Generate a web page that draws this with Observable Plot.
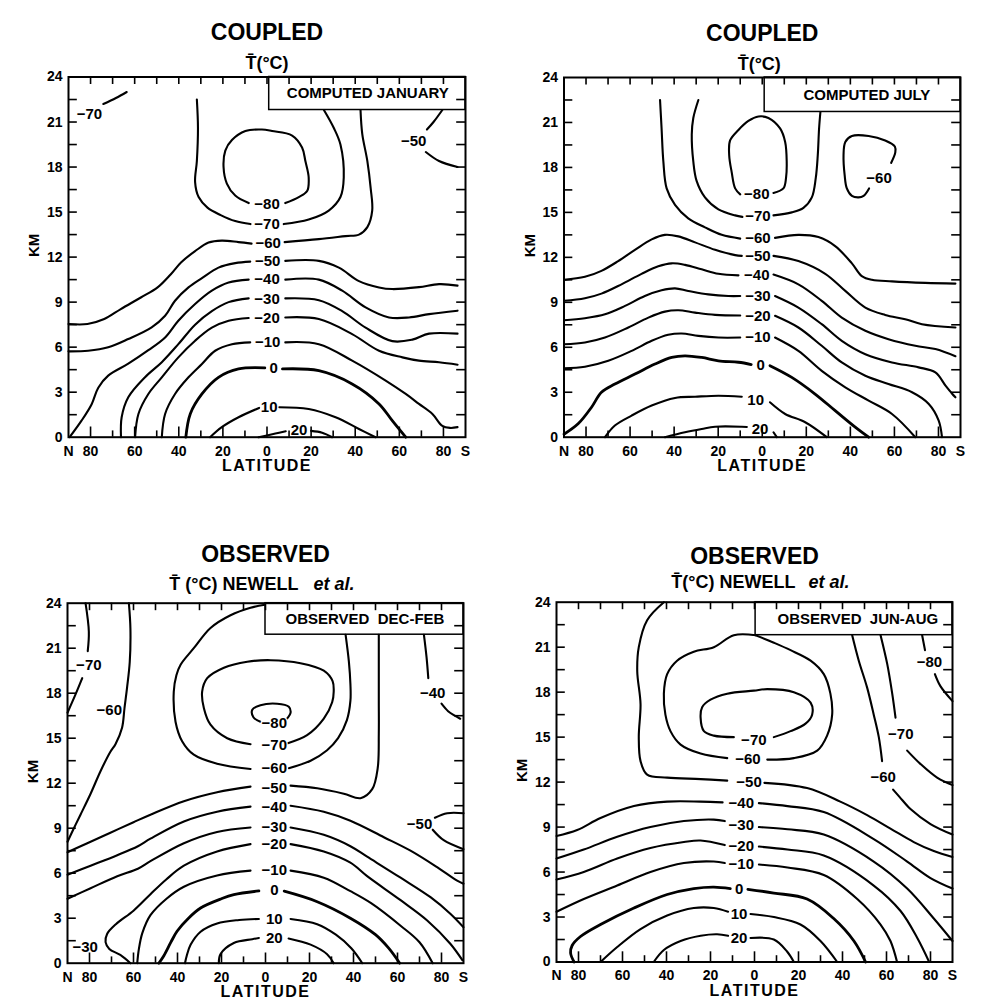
<!DOCTYPE html>
<html><head><meta charset="utf-8">
<script src="https://cdn.jsdelivr.net/npm/d3@7"></script>
<script src="https://cdn.jsdelivr.net/npm/@observablehq/plot@0.6"></script>
<style>
body{margin:0;background:#fff;}
#wrap{position:relative;width:985px;height:1007px;overflow:hidden;background:#fff;}
#wrap svg{position:absolute;}
</style></head><body><div id="wrap"></div>
<script>
// ---------- axis ticks ----------
const kmTicks = [1.5,3,4.5,6,7.5,9,10.5,12,13.5,15,16.5,18,19.5,21,22.5];
const kmTickLabels = [0,3,6,9,12,15,18,21,24];
const latTicks = [80,70,60,50,40,30,20,10,0,-10,-20,-30,-40,-50,-60,-70,-80];
const latTickLabels = [80,60,40,20,0,-20,-40,-60,-80];

// ---------- COMPUTED JANUARY (lat, km) ----------
const janM70a = [[74.2,22.2],[68.5,22.6],[63.6,23.0]];
const janM70n = [[31.8,22.5],[31.3,20.6],[31.8,18.4],[32.6,17.0],[31,16.0],[27,15.3],[21,14.8],[14.4,14.4],[7.5,14.2]];
const janM70s = [[-7.6,14.2],[-18.9,14.5],[-28,15.1],[-33.3,16.0],[-34.8,17.3],[-33.3,19.5],[-30.3,20.6],[-25.8,21.8]];
const janM80 = [[8.3,15.6],[14.4,16.1],[18.2,16.9],[19.7,18.0],[18.9,19.1],[15.9,19.8],[9.8,20.4],[2.3,20.5],[-2.3,20.4],[-11.4,20.1],[-15.9,19.3],[-17.4,18.4],[-18.9,17.3],[-18.2,16.4],[-14.4,16.0],[-8.3,15.6]];
const janM60n = [[90,7.54],[81.4,7.54],[73.8,7.87],[66.3,8.54],[57.2,9.31],[49.6,9.98],[43.6,10.86],[39,11.64],[32.6,12.4],[26.5,12.97],[20.5,13.1],[12.9,13.0],[7,12.9]];
const janM60s = [[-8,13.0],[-23.5,13.2],[-35.6,13.4],[-41.7,13.5],[-45.5,14.0],[-47.7,15.1],[-47,16.6],[-45.5,18.4],[-43.2,20.2],[-42.4,21.8]];
const janM50n = [[90,5.72],[81.1,5.76],[72,5.99],[62.9,6.54],[52.3,7.32],[46.2,8.09],[41.7,9.09],[35.6,9.98],[29.5,10.6],[22,11.3],[14.4,11.6],[7.6,11.7]];
const janM50s = [[-8.3,11.75],[-23.5,11.75],[-32.6,11.3],[-41.7,10.4],[-50.8,9.98],[-56.8,9.87],[-68.9,10.0],[-78,10.2],[-86.4,10.1]];
const janM50a = [[-79.5,21.8],[-75.5,21.0],[-72.5,20.5]];
const janM50b = [[-72,19.0],[-78,18.4],[-86.4,18.0]];
const janM40n = [[89.5,0],[84.1,1.1],[79.5,2.2],[76.5,3.3],[72,4.1],[62.9,4.9],[53.8,5.8],[46.2,6.65],[40.2,7.76],[32.6,8.87],[25,9.76],[17.4,10.3],[8.3,10.5]];
const janM40s = [[-8.3,10.5],[-23.5,10.5],[-34.1,9.76],[-44.7,8.65],[-55.3,7.98],[-64.4,7.98],[-73.5,8.2],[-86.4,8.43]];
const janM30n = [[66.2,0],[65.9,1.33],[62.9,2.66],[55.3,4.0],[47.7,5.0],[40.2,6.2],[32.6,7.5],[25,8.4],[17.4,9.0],[8.3,9.25]];
const janM30s = [[-8.3,9.25],[-23.5,9.13],[-34.1,8.4],[-44.7,7.3],[-56.8,6.4],[-65.9,6.5],[-73.5,6.9],[-86.4,6.9]];
const janM20n = [[59.8,0],[58.3,1.55],[53.8,2.88],[47.7,3.99],[40.2,5.32],[32.6,6.43],[25,7.3],[17.4,7.76],[8.3,7.94]];
const janM20s = [[-8.3,7.98],[-23.5,7.87],[-38.6,6.87],[-50.8,5.76],[-61.4,5.32],[-68.9,5.1],[-78,4.99],[-86.4,4.83]];
const janM10n = [[47.7,0],[46.2,1.55],[41.7,2.88],[35.6,3.99],[29.5,4.88],[23.5,5.76],[15.9,6.2],[7.6,6.32]];
const janM10s = [[-8.3,6.32],[-23.5,6.2],[-38.6,5.1],[-53.8,3.77],[-62.9,2.88],[-68.9,2.22],[-75,1.55],[-79.5,0.75],[-83,0.62],[-86.4,0.67]];
const jan0n = [[36.8,0],[34.8,1.55],[29.5,2.88],[22,3.99],[12.9,4.55],[1,4.62]];
const jan0s = [[-7,4.55],[-23.5,4.43],[-38.6,3.55],[-50.8,2.22],[-56.8,1.1],[-62.9,0]];
const jan10n = [[25.8,0],[20.5,0.67],[12.9,1.33],[3.6,1.95]];
const jan10s = [[-5.5,2.0],[-18.9,1.88],[-31.1,1.33],[-41.7,0.55],[-49.2,0]];
const jan20a = [[3.8,0],[-3.8,0.24],[-8.5,0.4]];
const jan20b = [[-20,0.42],[-25,0.3],[-29.5,0]];
const janLabels = [["−80",0,15.55],["−70",0,14.2],["−60",-0.5,12.95],["−50",-0.3,11.72],["−40",0,10.5],["−30",0,9.2],["−20",0,7.95],["−10",-0.3,6.3],["0",-3,4.58],["10",-1,1.98],["20",-14.5,0.45],["−50",-66.5,19.7],["−70",80.5,21.5]];

// ---------- COMPUTED JULY ----------
const julM80 = [[10,16.2],[12.3,16.6],[13.9,17.7],[15,18.8],[14.6,19.8],[10.8,20.5],[6.3,21.1],[1.7,21.4],[-2.8,21.3],[-8.1,20.6],[-10.4,19.7],[-11.1,18.4],[-10.8,17.3],[-9.6,16.6],[-5.1,16.3]];
const julM70n = [[29,22.5],[31.3,21.3],[32,20.2],[31.3,18.4],[29.8,17.1],[26,16.0],[19.9,15.2],[12.3,14.8],[9,14.7]];
const julM70s = [[-5.1,14.8],[-13.4,15.0],[-18.7,15.3],[-22.5,16.0],[-24.3,17.3],[-25.2,18.8],[-25.8,20.6],[-26.4,21.7]];
const julM60n = [[46.4,22.5],[45.7,20.6],[44.9,18.4],[43.4,16.6],[39.6,15.5],[33.6,14.6],[26,14.0],[18.4,13.5],[10,13.25]];
const julM60s = [[-5.8,13.3],[-16.4,13.5],[-25.5,13.35],[-33.1,12.75],[-40.7,11.6],[-45.2,10.75],[-49.8,10.5],[-58.9,10.4],[-74,10.3],[-87.7,10.25]];
const julM60loop = [[-48.5,16.6],[-46,16.1],[-43.7,16.0],[-40.7,16.1],[-38.4,16.6],[-37.4,17.5],[-36.9,18.8],[-37.7,19.7],[-40.7,20.1],[-48.3,20.1],[-55.8,19.8],[-60.2,19.4],[-60.4,19.0],[-58.5,18.3]];
const julM50n = [[90,10.5],[80.5,10.7],[73,11.1],[65.4,11.75],[57.8,12.5],[50.2,13.2],[44.2,13.5],[38.1,13.4],[30.5,13.0],[21.4,12.5],[12.3,12.15],[9.3,12.1]];
const julM50s = [[-5.1,12.1],[-16.4,11.75],[-28.6,10.9],[-37.7,9.76],[-46.8,8.65],[-55.8,8.16],[-64.9,7.87],[-72.5,7.54],[-87.7,7.32]];
const julM40n = [[90,9.1],[80.5,9.27],[73,9.58],[63.9,10.2],[54.8,10.9],[47.2,11.4],[41.1,11.6],[35.1,11.5],[27.5,11.2],[19.9,10.9],[10.8,10.8]];
const julM40s = [[-5.1,10.85],[-16.4,10.2],[-27,9.1],[-36.1,7.98],[-46.8,7.1],[-57.3,6.54],[-69.5,6.1],[-78.6,5.88],[-87.7,5.4]];
const julM30n = [[90,7.8],[80.5,7.94],[71.4,8.2],[62.3,8.76],[53.3,9.42],[45.7,9.8],[39.6,9.93],[33.6,9.76],[24.5,9.53],[15.4,9.42],[10,9.42]];
const julM30s = [[-5.8,9.42],[-16.4,8.65],[-27,7.54],[-36.1,6.43],[-46.8,5.54],[-58.9,4.99],[-71,4.66],[-78.6,4.32],[-83.2,3.44],[-86.2,2.9],[-87.7,2.66]];
const julM20n = [[90,6.2],[80.5,6.32],[71.4,6.65],[60.8,7.32],[51.7,7.98],[44.2,8.38],[38.1,8.47],[30.5,8.31],[21.4,8.16],[10,8.12]];
const julM20s = [[-5.8,8.1],[-16.4,7.32],[-27,6.1],[-36.1,4.99],[-46.8,4.1],[-57.3,3.55],[-68,3.0],[-75.6,2.22],[-80.1,1.11],[-81.6,0]];
const julM10n = [[90,4.6],[80.5,4.7],[69.9,5.1],[59.3,5.76],[50.2,6.43],[42.7,6.83],[36.6,6.92],[29,6.76],[19.9,6.65],[10,6.65]];
const julM10s = [[-5.8,6.65],[-16.4,5.76],[-27,4.43],[-37.7,3.33],[-48.3,2.44],[-58.9,1.55],[-69.5,0]];
const jul0n = [[90,0.2],[83.6,0.89],[77.5,2.0],[73,3.0],[66.9,3.55],[57.8,4.21],[48.7,4.88],[41.1,5.32],[35.1,5.43],[27.5,5.32],[19.9,5.1],[10.8,5.0],[5,4.85]];
const jul0s = [[-3.5,4.77],[-13.4,3.99],[-24,2.88],[-33.1,1.77],[-42.2,0.67],[-48.3,0]];
const jul10n = [[71.4,0],[66.9,0.78],[59.3,1.44],[50.2,2.11],[39.6,2.62],[30.5,2.7],[19.9,2.77],[9.3,2.7]];
const jul10s = [[-3.5,2.33],[-10.4,1.55],[-19.5,1.0],[-29.3,0]];
const jul20n = [[44.2,0],[35.1,0.33],[27.5,0.55],[21.4,0.7],[9.3,0.7],[7,0.68]];
const jul20s = [[-5.1,0.33],[-6.6,0]];
const julLabels = [["−80",2.5,16.2],["−70",2,14.75],["−60",2,13.25],["−50",2,12.1],["−40",2.5,10.8],["−30",2,9.42],["−20",2,8.1],["−10",2,6.65],["0",0.7,4.8],["10",3,2.45],["20",1,0.55],["−60",-53,17.3]];

// ---------- OBSERVED DEC-FEB ----------
const decM80 = [[2.3,16.1],[5.5,16.4],[6,16.9],[2.3,17.2],[-5.3,17.3],[-10.6,17.1],[-11.4,16.7],[-9.8,16.3]];
const decM70 = [[6.8,14.6],[17.4,15.0],[25,15.9],[28,17.0],[28.8,18.1],[26.5,19.0],[18.9,19.7],[8.3,20.1],[-2.3,20.2],[-15.9,20.0],[-26.5,19.5],[-30.5,18.8],[-31,18.1],[-30.3,17.4],[-26.5,16.3],[-18.9,15.2],[-9.8,14.65]];
const decM60n = [[6.8,12.95],[22,13.3],[32.6,13.9],[37.9,14.8],[40.9,16.1],[41.7,18.1],[40.5,19.2],[38.6,19.9],[32.6,21.0],[25,22.35],[15.9,23.2],[6.8,23.7],[0.3,23.9]];
const decM60s = [[-10.6,13.0],[-20.5,13.5],[-28,14.2],[-33,15.0],[-37,16.2],[-38.6,17.5],[-38.6,18.6],[-37.9,20.1],[-36.4,21.9]];
const decM50n = [[90,7.4],[81,8.0],[70.5,8.7],[60,9.4],[52.3,9.9],[37.1,10.8],[22,11.4],[6.8,11.77]];
const decM50s = [[-11.4,11.84],[-23.5,11.66],[-35.6,11.3],[-43.2,11.0],[-48.5,11.6],[-51,13],[-51.5,15.3],[-51.5,17.5],[-51.5,19.7],[-51.5,21.9]];
const decM50a = [[-90,10.0],[-82.6,10.0],[-77,9.7]];
const decM50b = [[-76,8.9],[-81,8.2],[-90,7.6]];
const decM40n = [[90,5.9],[79.5,6.5],[67.4,7.2],[58,7.8],[52.3,8.3],[37.1,9.45],[22,10.1],[6.8,10.44]];
const decM40s = [[-11.4,10.5],[-26.5,10.1],[-38.6,9.5],[-53.8,8.4],[-65.9,7.5],[-78,6.4],[-87.1,5.5],[-90,5.3]];
const decM40a = [[-72,21.9],[-73.2,20.4],[-74,19.0]];
const decM40b = [[-80,17.3],[-83,16.8],[-86,16.5],[-88.5,16.3]];
const decM30n = [[90,4.3],[79.5,5.0],[67.4,5.8],[58,6.3],[52.3,6.8],[37.1,8.0],[22,8.75],[6.8,9.05]];
const decM30s = [[-11.4,9.05],[-26.5,8.56],[-38.6,7.8],[-46.2,7.1],[-61.4,5.7],[-75,4.4],[-84,3.3],[-90,2.4]];
const decM20n = [[61.4,0],[66,0.55],[71,0.95],[72.7,1.4],[72,1.95],[68,2.6],[60,3.5],[52.3,4.6],[45,5.6],[37.1,6.5],[22,7.45],[6.8,7.94]];
const decM20s = [[-11.4,7.94],[-26.5,7.45],[-38.6,6.7],[-46.2,5.8],[-61.4,4.2],[-73.5,2.85],[-84,1.3],[-89.5,0.2]];
const decM10n = [[58.3,0],[57.6,0.9],[56,2.0],[52.3,3.2],[45,4.3],[37.1,5.1],[22,5.85],[6.8,6.17]];
const decM10s = [[-11.4,6.17],[-26.5,5.7],[-38.6,4.8],[-48,4.0],[-61.4,2.5],[-70,1.4],[-76,0]];
const dec0n = [[48.5,0],[46.2,0.5],[43,1.4],[40.2,2.13],[35,3.0],[29.5,3.68],[20,4.3],[14.4,4.57],[3,4.82]];
const dec0s = [[-8.5,4.8],[-23.5,4.1],[-38.6,3.0],[-50,1.9],[-56,1.0],[-61,0]];
const dec10n = [[36.6,0],[35.8,0.5],[34,1.24],[29.5,2.1],[22,2.65],[12,2.88],[3,2.95]];
const dec10s = [[-11.4,2.95],[-23.5,2.6],[-32,1.9],[-39,1.0],[-44,0]];
const dec20n = [[21.2,0],[20.5,0.6],[14.4,1.35],[6,1.6],[3,1.68]];
const dec20s = [[-10.5,1.65],[-20.5,1.24],[-28,0.6],[-31,0]];
const decM70pa = [[81.8,24],[80.3,22.1],[80.8,20.8]];
const decM70pb = [[83.3,19.0],[86.4,17.9],[90,16.7]];
const decM60p = [[62.1,24],[61.4,22.3],[61.7,20.1],[62.9,18.4],[64.1,17.0],[65.2,15.7],[68.2,14.6],[70.5,14.1],[75,12.8],[79.5,11.3],[84.1,9.9],[87.1,9.0],[90,8.1]];
const decLabels = [["−80",-4,16.0],["−70",-4,14.55],["−60",-4,13.0],["−50",-4,11.7],["−40",-4,10.4],["−30",-4,9.05],["−20",-4,7.94],["−10",-4,6.17],["0",-4,4.84],["10",-4,2.95],["20",-4,1.68],["−70",80.3,19.9],["−60",71,16.9],["−40",-76,18.0],["−50",-70,9.25],["−30",82,1.1]];

// ---------- OBSERVED JUN-AUG ----------
const junM70 = [[9.4,15.0],[18.5,15.1],[23,15.4],[24.5,16.3],[23.8,17.0],[20,17.5],[12.4,17.9],[0.3,18.1],[-5.8,18.2],[-17.9,18.0],[-25.5,17.3],[-26.2,16.5],[-23.2,15.9],[-16.4,15.4],[-8.8,15.0]];
const junM60n = [[-0.5,21.8],[9.4,21.8],[18.5,21.0],[27.6,20.7],[35.2,20.1],[39.7,19.2],[41.2,17.9],[40.5,16.5],[38.2,15.4],[33.6,14.5],[24.5,13.9],[12.4,13.6]];
const junM60s = [[-5.8,13.5],[-17.9,13.6],[-28.5,14.1],[-33,15.1],[-35.3,16.5],[-34.5,17.9],[-31.5,19.2],[-25.5,20.1],[-16.4,20.8],[-8.8,21.3],[-0.5,21.8]];
const junM50n = [[41.2,24],[48.8,22.8],[52.6,21.0],[53.3,19.4],[51.8,17.2],[52.6,15.0],[51.8,13.4],[48.8,12.5],[39.7,12.3],[24.5,12.2],[12.4,12.1]];
const junM50s = [[-4.5,11.95],[-23.9,11.6],[-39,10.7],[-51.2,9.8],[-61.8,8.9],[-72.4,8.0],[-81.5,7.4],[-90,7.0]];
const junM40n = [[90,8.4],[80.6,8.8],[70,9.6],[54.8,10.4],[39.7,10.7],[24.5,10.7],[14.5,10.65]];
const junM40s = [[-2,10.6],[-15,10.4],[-31.5,10.0],[-54.2,8.2],[-69.4,6.7],[-80,5.6],[-90,4.9]];
const junM30n = [[90,6.9],[77.6,7.5],[62.4,8.35],[47.3,9.0],[32.1,9.4],[18.5,9.5],[13.5,9.4]];
const junM30s = [[-2,9.0],[-15,8.85],[-31.5,8.5],[-54.2,6.7],[-69.4,4.9],[-81.5,2.9],[-90,1.4]];
const junM20n = [[90,5.5],[77.6,6.0],[62.4,6.9],[47.3,7.6],[32.1,8.0],[24.5,8.1],[13.5,7.8]];
const junM20s = [[-2,7.7],[-15,7.5],[-31.5,7.1],[-54.2,5.1],[-66.4,3.4],[-74,1.6],[-79.4,0]];
const junM10n = [[90,3.35],[77.6,4.2],[62.4,5.1],[47.3,6.0],[32.1,6.6],[18.5,6.7],[13.5,6.6]];
const junM10s = [[-2,6.5],[-15,6.3],[-31.5,5.8],[-46.7,4.2],[-57.3,2.5],[-61.8,1.4],[-64.8,0]];
const jun0n = [[82,0],[83.6,0.6],[82.9,1.1],[79.1,1.7],[70,2.5],[54.8,3.6],[39.7,4.5],[27.6,4.9],[18.5,5.0],[11,4.9]];
const jun0s = [[3,4.85],[-8.8,4.6],[-23.9,4.2],[-36,2.9],[-45.2,1.4],[-50.5,0]];
const jun10n = [[70,0],[62.4,1.0],[51.8,2.2],[39.7,3.1],[27.6,3.6],[18.5,3.6],[12,3.35]];
const jun10s = [[1.8,3.2],[-8.8,3.0],[-20.9,2.5],[-30,1.4],[-37.6,0]];
const jun20n = [[45.8,0],[41.2,0.8],[33.6,1.4],[24.5,1.75],[17,1.85],[12,1.75]];
const jun20s = [[1.8,1.6],[-8.8,1.5],[-14.8,0.7],[-17.9,0]];
const junM80a = [[-76.2,21.8],[-77.5,20.8]];
const junM80b = [[-82,19.2],[-84.5,18.4],[-90,17.4]];
const junM70a = [[-57.3,21.8],[-60.3,19.9],[-62.6,17.9],[-64.1,16.3]];
const junM70b = [[-69.4,14.1],[-75.5,13.2],[-83,12.3],[-90,11.8]];
const junM60a = [[-44.4,21.8],[-47.4,20.1],[-51.2,18.3],[-54.2,16.5],[-56.5,15.0],[-58,13.4]];
const junM60b = [[-63,11.5],[-66,11.0],[-70.9,10.2],[-80,9.2],[-90,8.5]];
const junLabels = [["−70",0.3,14.8],["−60",3,13.5],["−50",2.5,12.0],["−40",6,10.6],["−30",6,9.1],["−20",6,7.7],["−10",6,6.5],["0",7,4.85],["10",7,3.2],["20",7,1.6],["−80",-79.5,20.0],["−70",-66.5,15.2],["−60",-58.5,12.3]];

// ---------- tables built from the arrays ----------
const janLines = [[-70,janM70a],[-70,janM70n],[-70,janM70s],[-80,janM80],[-60,janM60n],[-60,janM60s],[-50,janM50n],[-50,janM50s],[-50,janM50a],[-50,janM50b],[-40,janM40n],[-40,janM40s],[-30,janM30n],[-30,janM30s],[-20,janM20n],[-20,janM20s],[-10,janM10n],[-10,janM10s],[0,jan0n],[0,jan0s],[10,jan10n],[10,jan10s],[20,jan20a],[20,jan20b]];
const julLines = [[-80,julM80],[-70,julM70n],[-70,julM70s],[-60,julM60n],[-60,julM60s],[-60,julM60loop],[-50,julM50n],[-50,julM50s],[-40,julM40n],[-40,julM40s],[-30,julM30n],[-30,julM30s],[-20,julM20n],[-20,julM20s],[-10,julM10n],[-10,julM10s],[0,jul0n],[0,jul0s],[10,jul10n],[10,jul10s],[20,jul20n],[20,jul20s]];
const decLines = [[-80,decM80],[-70,decM70],[-60,decM60n],[-60,decM60s],[-50,decM50n],[-50,decM50s],[-50,decM50a],[-50,decM50b],[-40,decM40n],[-40,decM40s],[-40,decM40a],[-40,decM40b],[-30,decM30n],[-30,decM30s],[-20,decM20n],[-20,decM20s],[-10,decM10n],[-10,decM10s],[0,dec0n],[0,dec0s],[10,dec10n],[10,dec10s],[20,dec20n],[20,dec20s],[-70,decM70pa],[-70,decM70pb],[-60,decM60p]];
const junLines = [[-70,junM70],[-60,junM60n],[-60,junM60s],[-50,junM50n],[-50,junM50s],[-40,junM40n],[-40,junM40s],[-30,junM30n],[-30,junM30s],[-20,junM20n],[-20,junM20s],[-10,junM10n],[-10,junM10s],[0,jun0n],[0,jun0s],[10,jun10n],[10,jun10s],[20,jun20n],[20,jun20s],[-80,junM80a],[-80,junM80b],[-70,junM70a],[-70,junM70b],[-60,junM60a],[-60,junM60b]];

const FONT = "'Liberation Sans', Arial, sans-serif";

function panel(cfg) {
  const marks = [];
  marks.push(Plot.rect([cfg.box], {x1: d => d.lat, x2: () => -90, y1: d => d.km, y2: () => 24, fill: "white", stroke: "black", strokeWidth: 1.5}));
  marks.push(Plot.text([cfg.box], {x: d => d.textLat, y: d => (d.km + 24) / 2, text: d => d.text, fontSize: 15, fontWeight: "bold", fill: "black"}));
  for (const [v, pts] of cfg.lines) {
    marks.push(Plot.line(pts, {x: d => d[0], y: d => d[1], curve: "catmull-rom", stroke: "black", strokeWidth: v === 0 ? 2.8 : 2.1, strokeLinecap: "round", strokeLinejoin: "round"}));
  }
  marks.push(Plot.text(cfg.labels, {x: d => d[1], y: d => d[2], text: d => d[0], fontSize: 15, fontWeight: "bold", fill: "black", stroke: "white", strokeWidth: 2.5}));
  // inward ticks
  marks.push(Plot.ruleY(kmTicks, {y: d => d, x1: () => 90, x2: () => 86, stroke: "black", strokeWidth: 1.6}));
  marks.push(Plot.ruleY(kmTicks, {y: d => d, x1: () => -90, x2: () => -86, stroke: "black", strokeWidth: 1.6}));
  marks.push(Plot.ruleX(latTicks, {x: d => d, y1: () => 24, y2: () => 23.5, stroke: "black", strokeWidth: 1.6}));
  marks.push(Plot.ruleX(latTicks, {x: d => d, y1: () => 0, y2: d => (d % 20 === 0 ? 0.68 : 0.42), stroke: "black", strokeWidth: 1.6}));
  marks.push(Plot.frame({stroke: "black", strokeWidth: 2}));
  // tick labels
  marks.push(Plot.text(kmTickLabels, {x: () => 90, y: d => d, text: d => String(d), dx: -6, textAnchor: "end", fontSize: 14, fontWeight: "bold", fill: "black"}));
  marks.push(Plot.text(latTickLabels, {x: d => d, y: () => 0, text: d => String(Math.abs(d)), dy: 14, fontSize: 14, fontWeight: "bold", fill: "black"}));
  marks.push(Plot.text([["N", 90], ["S", -90]], {x: d => d[1], y: () => 0, text: d => d[0], dy: 14, fontSize: 14, fontWeight: "bold", fill: "black"}));
  marks.push(Plot.text(["KM"], {frameAnchor: "left", dx: -34, rotate: -90, text: d => d, fontSize: 15, fontWeight: "bold", fill: "black"}));
  marks.push(Plot.text(["LATITUDE"], {frameAnchor: "bottom", dy: 34, text: d => d, fontSize: 16, fontWeight: "bold", fill: "black"}));
  // titles
  marks.push(Plot.text([cfg.title], {frameAnchor: "top", dy: cfg.titleDy, text: d => d, fontSize: 23, fontWeight: "bold", fill: "black"}));
  for (const s of cfg.subs) {
    marks.push(Plot.text([s.text], {frameAnchor: "top", dy: cfg.subDy, dx: s.dx, textAnchor: s.anchor, text: d => d, fontSize: 18, fontWeight: "bold", fontStyle: s.italic ? "italic" : "normal", fill: "black"}));
  }
  const svg = Plot.plot({
    width: cfg.width, height: cfg.height,
    marginLeft: cfg.mL, marginRight: cfg.mR, marginTop: cfg.mT, marginBottom: cfg.mB,
    x: {domain: [90, -90], axis: null},
    y: {domain: [0, 24], axis: null},
    style: {fontFamily: FONT, background: "transparent", overflow: "visible", color: "black"},
    marks
  });
  svg.style.left = cfg.left + "px";
  svg.style.top = cfg.top + "px";
  svg.querySelectorAll("text").forEach(t => { if (t.textContent === "LATITUDE") t.setAttribute("letter-spacing", "1.5"); });
  return svg;
}

const wrap = document.getElementById("wrap");
wrap.appendChild(panel({
  left: 0, top: 0, width: 490, height: 500, mL: 68, mR: 25, mT: 76.5, mB: 63.3,
  title: "COUPLED", titleDy: -53.5, subDy: -20.5,
  subs: [{text: "T\u0304(°C)", dx: 0, anchor: "middle"}],
  box: {lat: -1, km: 21.8, textLat: -45.7, text: "COMPUTED JANUARY"},
  lines: janLines, labels: janLabels
}));
wrap.appendChild(panel({
  left: 495, top: 0, width: 490, height: 500, mL: 68.5, mR: 25, mT: 77, mB: 63.3,
  title: "COUPLED", titleDy: -53, subDy: -20.5,
  subs: [{text: "T\u0304(°C)", dx: -3, anchor: "middle"}],
  box: {lat: -1.1, km: 21.7, textLat: -47.5, text: "COMPUTED JULY"},
  lines: julLines, labels: julLabels
}));
wrap.appendChild(panel({
  left: 0, top: 505, width: 490, height: 502, mL: 67, mR: 27, mT: 97.7, mB: 44.3,
  title: "OBSERVED", titleDy: -57.7, subDy: -25.7,
  subs: [{text: "T\u0304 (°C) NEWELL", dx: 33, anchor: "end"}, {text: "et al.", dx: 48, anchor: "start", italic: true}],
  box: {lat: 0, km: 21.9, textLat: -45.2, text: "OBSERVED  DEC-FEB"},
  lines: decLines, labels: decLabels
}));
wrap.appendChild(panel({
  left: 495, top: 505, width: 490, height: 502, mL: 61, mR: 33, mT: 96.7, mB: 45.5,
  title: "OBSERVED", titleDy: -54.7, subDy: -26.7,
  subs: [{text: "T\u0304(°C) NEWELL", dx: 41, anchor: "end"}, {text: "et al.", dx: 54, anchor: "start", italic: true}],
  box: {lat: -0.5, km: 21.8, textLat: -47, text: "OBSERVED  JUN-AUG"},
  lines: junLines, labels: junLabels
}));
</script></body></html>
